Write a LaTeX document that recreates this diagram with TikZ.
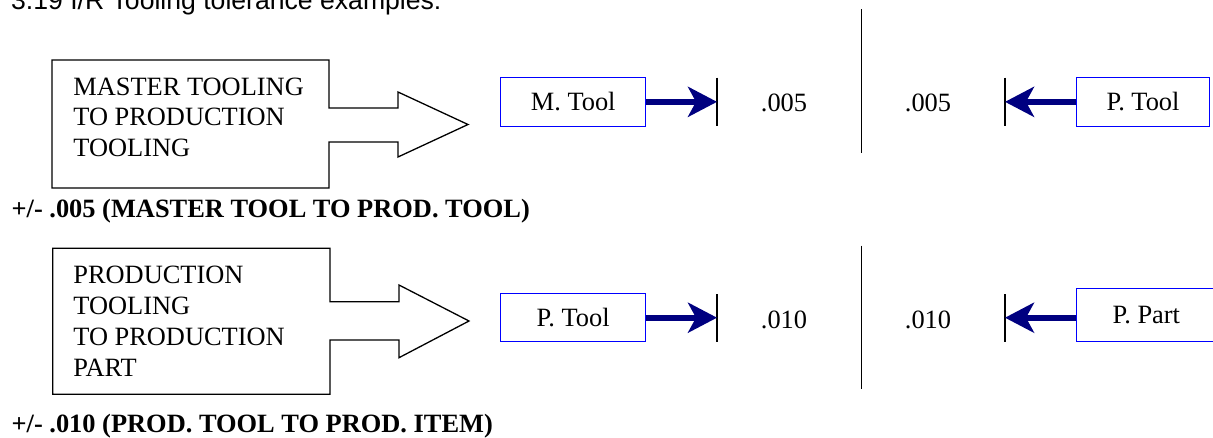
\documentclass[tikz,border=0pt]{standalone}
\usepackage{fontspec}
\setmainfont{Liberation Serif}
\newfontfamily\headfont{Liberation Sans}
\usetikzlibrary{arrows.meta}
\definecolor{navy}{RGB}{0,0,128}

\begin{document}
\begin{tikzpicture}[
            x = 0.5pt, % one unit is one pixel
            y = -0.5pt,
            line width = 0.65pt, % line style
            font = \fontsize{13.2}{15.4}\selectfont
        ]

        \tikzstyle{tool}=[
        draw = blue,
        line width = 0.5pt,
        inner sep = 0pt,
        minimum width = 72.5pt,
        minimum height = 24.2pt
        ]
        \tikzstyle{push}=[
        draw = navy,
        line width = 3pt,
        -{Stealth[length=14.5pt, width=15pt, inset=4pt]}
        ]
        \tikzstyle{label}=[anchor = base, inner sep = 0pt]
        \tikzstyle{caption}=[
        anchor = base west,
        inner sep = 0pt,
        font = \fontsize{13.2}{15.4}\selectfont\bfseries
        ]

        \useasboundingbox (0,0) rectangle (1213,438);

        \node[anchor = base west, inner sep = 0pt,
              font = \headfont\fontsize{13.3}{16}\selectfont] (title) at (10.5,9.5)
              {3.19 I/R Tooling tolerance examples:};

        % master tooling to production tooling
        \draw (52,60) -- (329,60) -- (329,108) -- (398,108) -- (398,92) -- (468,124.5)
            -- (398,157) -- (398,142) -- (329,142) -- (329,188) -- (52,188) -- cycle;
        \node[anchor = north west, align = left, inner sep = 0pt] (mtpt) at (72.7,77)
            {MASTER TOOLING\\TO PRODUCTION\\TOOLING};

        \node[tool] (mtool) at (573.2,101.85) {M. Tool};
        \node[tool, minimum width = 66.3pt] (ptool) at (1143,101.85) {P. Tool};
        \coordinate (stop1) at (717,101.85);
        \coordinate (stop2) at (1005,101.85);

        \draw (717,77.7) -- (717,125.7);
        \draw (1005,77.7) -- (1005,125.7);
        \draw[line width = 0.5pt] (861,9.3) -- (861,152.7);

        \draw[push] (mtool) -- (stop1);
        \draw[push] (ptool) -- (stop2);

        \node[label] (tolA) at (784,111.7) {.005};
        \node[label] (tolB) at (928,111.7) {.005};

        \node[caption] (capA) at (11,217.7) {+/- .005 (MASTER TOOL TO PROD. TOOL)};

        % production tooling to production part
        \draw (52.7,248.3) -- (330,248.3) -- (330,301.7) -- (399,301.7) -- (399,285) -- (469,321)
            -- (399,357.7) -- (399,340) -- (330,340) -- (330,394.3) -- (52.7,394.3) -- cycle;
        \node[anchor = north west, align = left, inner sep = 0pt] (ptpp) at (72.7,265.7)
            {PRODUCTION\\TOOLING\\TO PRODUCTION\\PART};

        \node[tool] (ptool2) at (573.2,317.7) {P. Tool};
        \node[tool, minimum width = 69.8pt, minimum height = 26.7pt] (ppart) at (1146.3,315) {P. Part};
        \coordinate (stop3) at (717,317.7);
        \coordinate (stop4) at (1005,317.7);

        \draw (717,294.3) -- (717,341.7);
        \draw (1005,294.3) -- (1005,341.7);
        \draw[line width = 0.5pt] (861,245.7) -- (861,389.3);

        \draw[push] (ptool2) -- (stop3);
        \draw[push] (ppart.west |- stop4) -- (stop4);

        \node[label] (tolC) at (784,328.3) {.010};
        \node[label] (tolD) at (928,328.3) {.010};

        \node[caption] (capB) at (11,432.7) {+/- .010 (PROD. TOOL TO PROD. ITEM)};
    \end{tikzpicture}
\end{document}
